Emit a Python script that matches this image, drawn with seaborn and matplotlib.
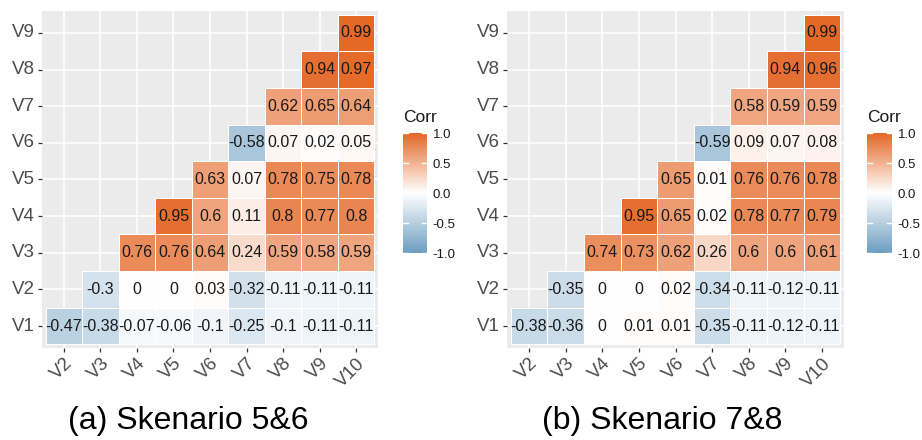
import numpy as np
import pandas as pd
import matplotlib
matplotlib.use('Agg')
import matplotlib.pyplot as plt
import seaborn as sns
from matplotlib.colors import LinearSegmentedColormap

plt.rcParams['font.family'] = ['Liberation Sans', 'DejaVu Sans']

# Baris V1..V9, kolom mulai dari V(i+1) sampai V10
rows = ['V1', 'V2', 'V3', 'V4', 'V5', 'V6', 'V7', 'V8', 'V9']
cols = ['V2', 'V3', 'V4', 'V5', 'V6', 'V7', 'V8', 'V9', 'V10']

# (a) Skenario 5&6
a_v1 = [-0.47, -0.38, -0.07, -0.06, -0.1, -0.25, -0.1, -0.11, -0.11]
a_v2 = [-0.3, 0, 0, 0.03, -0.32, -0.11, -0.11, -0.11]
a_v3 = [0.76, 0.76, 0.64, 0.24, 0.59, 0.58, 0.59]
a_v4 = [0.95, 0.6, 0.11, 0.8, 0.77, 0.8]
a_v5 = [0.63, 0.07, 0.78, 0.75, 0.78]
a_v6 = [-0.58, 0.07, 0.02, 0.05]
a_v7 = [0.62, 0.65, 0.64]
a_v8 = [0.94, 0.97]
a_v9 = [0.99]

# (b) Skenario 7&8
b_v1 = [-0.38, -0.36, 0, 0.01, 0.01, -0.35, -0.11, -0.12, -0.11]
b_v2 = [-0.35, 0, 0, 0.02, -0.34, -0.11, -0.12, -0.11]
b_v3 = [0.74, 0.73, 0.62, 0.26, 0.6, 0.6, 0.61]
b_v4 = [0.95, 0.65, 0.02, 0.78, 0.77, 0.79]
b_v5 = [0.65, 0.01, 0.76, 0.76, 0.78]
b_v6 = [-0.59, 0.09, 0.07, 0.08]
b_v7 = [0.58, 0.59, 0.59]
b_v8 = [0.94, 0.96]
b_v9 = [0.99]

titles = ['(a) Skenario 5&6', '(b) Skenario 7&8']
cmap = LinearSegmentedColormap.from_list('corr', ['#6D9EC1', 'white', '#E46726'])


def build(row_lists):
    mat = np.full((9, 9), np.nan)
    for i, vals in enumerate(row_lists):
        mat[i, i:] = vals
    df = pd.DataFrame(mat, index=rows, columns=cols)
    return df.iloc[::-1]  # V9 di atas


panels = [build([a_v1, a_v2, a_v3, a_v4, a_v5, a_v6, a_v7, a_v8, a_v9]),
          build([b_v1, b_v2, b_v3, b_v4, b_v5, b_v6, b_v7, b_v8, b_v9])]

W, H = 922, 440
fig = plt.figure(figsize=(W / 100, H / 100), dpi=100)

ax_pos = [(42, 11, 336, 337), (507, 11, 337, 337)]
cb_pos = [(403, 133, 24, 120), (867, 133, 25, 120)]
cap_x = [188, 662]


def frac(x, y, w, h):
    return [x / W, 1 - (y + h) / H, w / W, h / H]


for k, df in enumerate(panels):
    ax = fig.add_axes(frac(*ax_pos[k]))
    cax = fig.add_axes(frac(*cb_pos[k]))
    ax.set_facecolor('#EBEBEB')
    labels = df.map(lambda v: '' if np.isnan(v) else f'{v:g}')
    sns.heatmap(df, ax=ax, cbar_ax=cax, cmap=cmap, vmin=-1, vmax=1,
                annot=labels.values, fmt='', linewidths=0.6, linecolor='white',
                annot_kws={'color': '#1A1A1A', 'fontsize': 11.5})
    # sel kosong tanpa garis tepi
    mesh = ax.collections[0]
    valid = ~np.isnan(df.values.ravel())
    mesh.set_edgecolor([(1, 1, 1, 1) if v else (0, 0, 0, 0) for v in valid])
    for p in np.arange(9) + 0.5:
        ax.axvline(p, color='white', lw=1.1, zorder=0.5)
        ax.axhline(p, color='white', lw=1.1, zorder=0.5)
    ax.set_xlim(-0.1, 9.1)
    ax.set_ylim(9.1, -0.1)
    for s in ax.spines.values():
        s.set_visible(False)
    ax.set_xlabel('')
    ax.set_ylabel('')
    ax.tick_params(length=3, width=0.9, color='#333333', labelcolor='#4D4D4D', pad=2)
    ax.set_yticklabels(ax.get_yticklabels(), rotation=0, fontsize=13.5)
    ax.set_xticklabels(ax.get_xticklabels(), rotation=45, ha='right', va='top',
                       rotation_mode='anchor', fontsize=13.5)

    # colorbar gaya ggplot
    cb = mesh.colorbar
    cb.outline.set_visible(False)
    cb.set_ticks([-1, -0.5, 0, 0.5, 1])
    cb.set_ticklabels(['-1.0', '-0.5', '0.0', '0.5', '1.0'])
    cax.tick_params(length=0, labelsize=9.5, labelcolor='#1A1A1A', pad=4)
    for t in [-1, -0.5, 0, 0.5, 1]:
        cax.axhline(t, xmin=0, xmax=0.2, color='white', lw=1)
        cax.axhline(t, xmin=0.8, xmax=1, color='white', lw=1)
    fig.text(cb_pos[k][0] / W, 1 - 117 / H, 'Corr', fontsize=12.5, va='center',
             ha='left', color='#1A1A1A')

    fig.text(cap_x[k] / W, 1 - 421 / H, titles[k], fontsize=23, ha='center',
             va='center', color='black')

plt.savefig('out.png', dpi=100)
